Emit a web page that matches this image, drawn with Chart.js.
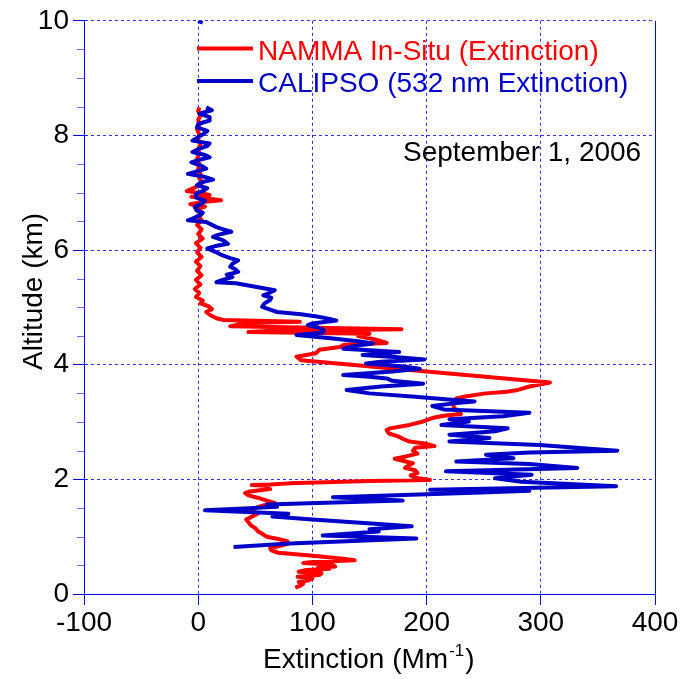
<!DOCTYPE html>
<html>
<head>
<meta charset="utf-8">
<title>NAMMA / CALIPSO extinction profiles</title>
<script src="https://cdn.jsdelivr.net/npm/chart.js@4"></script>
<style>
  html, body { margin: 0; padding: 0; background: #fff; }
  canvas { display: block; }
</style>
</head>
<body>
<canvas id="profile" width="682" height="679"></canvas>
<script>
// NAMMA in-situ extinction profile (Mm-1) vs altitude (km), top to bottom
const nammaAlt = [
  8.49, 8.42, 8.35, 8.27, 8.19, 8.10, 8.02, 7.93, 7.85, 7.76, 7.68, 7.59, 7.50, 7.42, 7.33, 7.25,
  7.18, 7.10, 7.03, 6.99, 6.96, 6.93, 6.90, 6.87, 6.84, 6.80, 6.76, 6.71, 6.66, 6.60, 6.52, 6.44,
  6.36, 6.28, 6.20, 6.12, 6.04, 5.96, 5.88, 5.80, 5.72, 5.64, 5.56, 5.48, 5.40, 5.32, 5.25, 5.18,
  5.12, 5.07, 5.02, 4.97, 4.92, 4.86, 4.81, 4.78, 4.75, 4.73, 4.67, 4.62, 4.59, 4.57, 4.54, 4.50,
  4.44, 4.38, 4.35, 4.31, 4.26, 4.20, 4.14, 4.08, 3.88, 3.69, 3.62, 3.56, 3.53, 3.50, 3.45, 3.41,
  3.33, 3.25, 3.18, 3.14, 3.11, 3.07, 3.01, 2.95, 2.89, 2.86, 2.80, 2.75, 2.70, 2.66, 2.62, 2.58,
  2.55, 2.50, 2.45, 2.40, 2.36, 2.32, 2.28, 2.24, 2.20, 2.16, 2.11, 2.07, 2.03, 1.99, 1.97, 1.93,
  1.91, 1.90, 1.89, 1.86, 1.83, 1.79, 1.76, 1.72, 1.68, 1.63, 1.59, 1.55, 1.50, 1.45, 1.40, 1.35,
  1.30, 1.25, 1.20, 1.15, 1.10, 1.05, 1.00, 0.96, 0.92, 0.88, 0.84, 0.80, 0.76, 0.72, 0.69, 0.66,
  0.62, 0.59, 0.56, 0.54, 0.51, 0.48, 0.46, 0.44, 0.42, 0.39, 0.36, 0.33, 0.30, 0.27, 0.24, 0.21,
  0.18, 0.14, 0.11
];
const nammaExt = [
  1, 0, 2, 0, 1, -1, 1, 0, 2, 0, 1, -1, 1, 0, 2, 1,
  4, -2, -10, 2, 10, -6, 8, 20, 4, -7, 6, -2, 3, 0, 3, -1,
  3, 0, 4, -2, 2, -1, 3, -2, 2, -1, 3, -2, 2, -3, 1, -2,
  4, 2, 9, 12, 7, 11, 16, 22, 89, 40, 28, 178, 60, 44, 150, 140,
  155, 165, 128, 124, 106, 103, 86, 90, 200, 308, 290, 280, 270, 252, 235, 226,
  223, 224, 228, 230, 215, 205, 197, 185, 168, 165, 167, 175, 180, 185, 200, 207,
  190, 188, 192, 182, 172, 180, 188, 184, 181, 190, 192, 186, 190, 203, 150, 80,
  63, 47, 60, 58, 63, 45, 41, 44, 52, 60, 67, 58, 50, 47, 52, 47,
  42, 44, 46, 50, 52, 56, 60, 70, 78, 79, 72, 63, 64, 70, 88, 105,
  125, 137, 100, 92, 118, 120, 105, 115, 95, 88, 108, 106, 87, 100, 97, 88,
  92, 89, 85
];

// CALIPSO 532 nm extinction profile (Mm-1) vs altitude (km); null splits the stray top segment
const calipsoAlt = [
  10.00, 9.97, null,
  8.49, 8.44, 8.38, 8.32, 8.26, 8.20, 8.14, 8.08, 8.03, 7.97, 7.91, 7.86, 7.82, 7.76,
  7.71, 7.66, 7.62, 7.57, 7.53, 7.47, 7.42, 7.37, 7.33, 7.28, 7.23, 7.18, 7.13, 7.08,
  7.04, 6.98, 6.92, 6.86, 6.81, 6.75, 6.69, 6.65, 6.61, 6.55, 6.52, 6.49, 6.44, 6.40,
  6.36, 6.32, 6.27, 6.23, 6.17, 6.11, 6.07, 6.03, 5.97, 5.91, 5.86, 5.82, 5.76, 5.71,
  5.66, 5.62, 5.57, 5.53, 5.47, 5.44, 5.42, 5.36, 5.30, 5.25, 5.21, 5.17, 5.13, 5.07,
  5.01, 4.96, 4.92, 4.88, 4.84, 4.80, 4.77, 4.72, 4.69, 4.65, 4.60, 4.56, 4.52, 4.46,
  4.41, 4.37, 4.32, 4.28, 4.22, 4.17, 4.13, 4.09, 4.05, 4.02, 3.97, 3.93, 3.88, 3.82,
  3.79, 3.76, 3.72, 3.67, 3.62, 3.56, 3.50, 3.44, 3.40, 3.36, 3.33, 3.28, 3.22, 3.16,
  3.10, 3.05, 3.01, 2.95, 2.89, 2.84, 2.78, 2.72, 2.66, 2.60, 2.50, 2.47, 2.43, 2.37,
  2.31, 2.27, 2.20, 2.14, 2.08, 2.02, 1.96, 1.88, 1.82, 1.80, 1.77, 1.69, 1.63, 1.56,
  1.52, 1.46, 1.40, 1.35, 1.30, 1.18, 1.13, 1.09, 1.02, 0.97, 0.88, 0.82
];
const calipsoExt = [
  0, 4, null,
  7, 12, 1, 10, 10, 0, -1, 8, 5, 0, -5, 10, 8, 0,
  -5, 6, 10, 0, -6, 3, 7, -2, -9, 5, 13, 2, -1, 8,
  5, -2, -2, 6, 3, -3, -1, 4, 2, -5, -9, 7, 12, 16,
  22, 29, 18, 13, 22, 26, 15, 8, 15, 21, 28, 35, 30, 28,
  33, 35, 25, 30, 20, 16, 33, 50, 67, 62, 57, 64, 63, 58,
  56, 63, 69, 90, 104, 115, 121, 100, 96, 105, 110, 109, 86, 116,
  140, 153, 135, 127, 176, 144, 175, 198, 160, 147, 180, 194, 170, 127,
  150, 165, 170, 197, 160, 130, 150, 190, 214, 242, 226, 205, 215, 290,
  267, 220, 237, 213, 271, 260, 220, 255, 220, 299, 367, 290, 252, 276,
  226, 290, 332, 217, 292, 260, 283, 366, 203, 290, 248, 118, 179, 60,
  69, 6, 79, 65, 100, 187, 150, 158, 109, 191, 80, 31
];

const xTicks = [-100, 0, 100, 200, 300, 400];
const yTicks = [0, 2, 4, 6, 8, 10];
const dateLabel = 'September 1, 2006';

const FONT = 'Liberation Sans, Arial, Helvetica, sans-serif';
const RED = '#ff0000';
const BLUE = '#0000c8';
const AXIS = '#0000ff';
const GRID = '#3030ee';

function toPoints(xs, ys) {
  return xs.map((v, i) => ({ x: v, y: ys[i] }));
}

// box edge, minor ticks, in-plot legend, date and axis titles
const decorations = {
  id: 'decorations',
  afterDraw(chart) {
    const { ctx, chartArea: a, scales: { y } } = chart;
    ctx.save();

    ctx.lineWidth = 1;
    ctx.strokeStyle = AXIS;
    ctx.beginPath();
    ctx.moveTo(Math.round(a.right) + 0.5, a.top);
    ctx.lineTo(Math.round(a.right) + 0.5, a.bottom);
    ctx.stroke();

    ctx.strokeStyle = '#6b6bf2';
    for (let v = 0.5; v < 10; v += 0.5) {
      if (v % 2 === 0) continue;
      const py = Math.round(y.getPixelForValue(v)) + 0.5;
      ctx.beginPath();
      ctx.moveTo(a.left - 7, py);
      ctx.lineTo(a.left, py);
      ctx.stroke();
    }

    // legend
    ctx.font = '28px ' + FONT;
    ctx.textAlign = 'left';
    ctx.textBaseline = 'alphabetic';
    const rows = [48.5, 81];
    chart.data.datasets.forEach((ds, i) => {
      ctx.strokeStyle = ds.borderColor;
      ctx.lineWidth = 4;
      ctx.beginPath();
      ctx.moveTo(197, rows[i]);
      ctx.lineTo(253, rows[i]);
      ctx.stroke();
      ctx.fillStyle = ds.borderColor;
      ctx.fillText(ds.label, 258, rows[i] + 11);
    });

    ctx.fillStyle = '#000';
    ctx.fillText(dateLabel, 403, 161);

    // x title with superscript unit
    const base = 668;
    let tx = 263;
    const part1 = 'Extinction (Mm';
    ctx.fillText(part1, tx, base);
    tx += ctx.measureText(part1).width;
    ctx.font = '17px ' + FONT;
    ctx.fillText('-1', tx + 1, base - 12);
    tx += ctx.measureText('-1').width + 2;
    ctx.font = '28px ' + FONT;
    ctx.fillText(')', tx, base);

    // y title
    ctx.translate(42, 370);
    ctx.rotate(-Math.PI / 2);
    ctx.fillText('Altitude (km)', 0, 0);

    ctx.restore();
  }
};

new Chart(document.getElementById('profile'), {
  type: 'scatter',
  data: {
    datasets: [
      {
        label: 'NAMMA In-Situ (Extinction)',
        data: toPoints(nammaExt, nammaAlt),
        borderColor: RED,
        backgroundColor: RED,
        borderWidth: 4,
        showLine: true,
        pointRadius: 0,
        borderJoinStyle: 'round',
        order: 2
      },
      {
        label: 'CALIPSO (532 nm Extinction)',
        data: toPoints(calipsoExt, calipsoAlt),
        borderColor: BLUE,
        backgroundColor: BLUE,
        borderWidth: 4,
        showLine: true,
        pointRadius: 0,
        borderJoinStyle: 'round',
        order: 1
      }
    ]
  },
  options: {
    responsive: false,
    animation: false,
    layout: { padding: { top: 20, right: 27, left: 0, bottom: 0 } },
    plugins: {
      legend: { display: false },
      tooltip: { enabled: false }
    },
    scales: {
      x: {
        type: 'linear',
        min: xTicks[0],
        max: xTicks[xTicks.length - 1],
        afterBuildTicks: s => { s.ticks = xTicks.map(v => ({ value: v })); },
        afterFit: s => { s.height = 85; },
        ticks: { color: '#000', padding: 1, font: { family: FONT, size: 28 } },
        grid: {
          color: c => (c.tick && (c.tick.value === xTicks[0] || c.tick.value === xTicks[xTicks.length - 1])) ? 'rgba(0,0,0,0)' : GRID,
          tickColor: AXIS,
          tickLength: 11,
          lineWidth: 1
        },
        border: { color: AXIS, width: 1, dash: [3, 3] }
      },
      y: {
        type: 'linear',
        min: yTicks[0],
        max: yTicks[yTicks.length - 1],
        afterBuildTicks: s => { s.ticks = yTicks.map(v => ({ value: v })); },
        afterFit: s => { s.width = 84; },
        ticks: { color: '#000', padding: 4, font: { family: FONT, size: 28 } },
        grid: {
          color: c => (c.tick && c.tick.value === yTicks[0]) ? 'rgba(0,0,0,0)' : GRID,
          tickColor: AXIS,
          tickLength: 11,
          lineWidth: 1
        },
        border: { color: AXIS, width: 1, dash: [3, 3] }
      }
    }
  },
  plugins: [decorations]
});
</script>
</body>
</html>
